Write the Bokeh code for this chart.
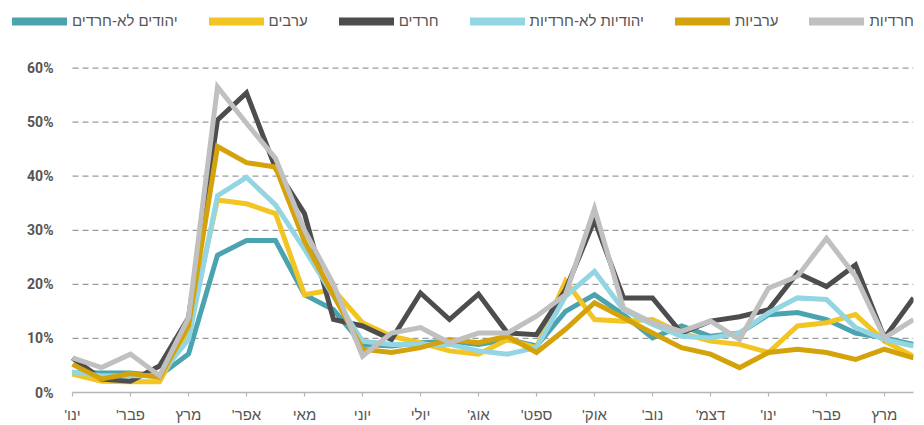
from bokeh.plotting import figure
from bokeh.models import (Range1d, FixedTicker, PrintfTickFormatter, Legend, LegendItem)
from bokeh.embed import file_html
from bokeh.resources import INLINE

# ---- data (percent) ----
months = ["ינו'", "פבר'", "מרץ", "אפר'", "מאי", "יוני", "יולי", "אוג'",
          "ספט'", "אוק'", "נוב'", "דצמ'", "ינו'", "פבר'", "מרץ"]

men_non_haredi = [3.7, 3.6, 3.6, 3.1, 7.1, 25.4, 28.1, 28.1, 18.1, 15.3, 8.9, 8.6, 9.2, 9.5, 8.9,
                  9.8, 8.6, 15.0, 18.1, 14.4, 10.1, 12.3, 10.4, 11.0, 14.4, 14.8, 13.5, 11.0, 10.1, 8.9]
arab_men = [3.4, 2.1, 2.0, 2.0, 11.7, 35.6, 34.9, 33.1, 18.1, 19.0, 12.9, 10.4, 9.2, 7.7, 7.1,
            9.8, 8.3, 20.6, 13.5, 13.2, 13.5, 11.0, 9.5, 8.9, 7.4, 12.3, 12.9, 14.4, 9.5, 6.7]
haredi_men = [6.4, 2.5, 2.1, 4.9, 13.8, 50.4, 55.4, 41.5, 33.1, 13.5, 12.3, 9.8, 18.4, 13.5, 18.2,
              11.0, 10.7, 19.0, 31.9, 17.5, 17.5, 11.0, 13.2, 14.0, 15.3, 22.1, 19.6, 23.6, 10.1, 17.5]
women_non_haredi = [3.8, 3.1, 3.1, 3.1, 9.8, 36.4, 39.8, 34.7, 26.5, 17.8, 9.5, 8.9, 8.9, 8.9, 7.7,
                    7.1, 8.3, 17.8, 22.4, 15.3, 12.6, 10.4, 10.1, 11.0, 14.7, 17.5, 17.2, 12.0, 9.8, 8.6]
arab_women = [5.2, 2.5, 3.5, 2.8, 12.3, 45.5, 42.5, 41.7, 28.0, 18.0, 8.0, 7.4, 8.3, 9.8, 9.2,
              10.4, 7.4, 11.7, 16.6, 13.8, 11.0, 8.3, 7.1, 4.6, 7.4, 8.0, 7.4, 6.1, 8.0, 6.4]
haredi_women = [6.4, 4.6, 7.1, 3.1, 13.8, 56.5, 49.8, 43.3, 30.0, 20.0, 6.7, 11.0, 12.0, 9.2, 11.0,
                11.0, 14.1, 18.1, 34.0, 15.6, 12.9, 11.3, 13.2, 9.8, 19.3, 21.5, 28.5, 21.5, 10.1, 13.5]

series_names = ["יהודים לא-חרדים", "ערבים", "חרדים", "יהודיות לא-חרדיות", "ערביות", "חרדיות"]
series_values = [men_non_haredi, arab_men, haredi_men, women_non_haredi, arab_women, haredi_women]
colors = ["#4aa3ae", "#f2c523", "#4d4d4f", "#93d5e3", "#d4a20b", "#c0c0c0"]
y_ticks = [0, 10, 20, 30, 40, 50, 60]

x = list(range(len(men_non_haredi)))
n_last = x[-1]

# frame spans from x=12px to 913px; data index 0 sits at 72px
px_per_unit = (913 - 72) / n_last
x_start = -(72 - 12) / px_per_unit

p = figure(width=924, height=425, output_backend="svg", toolbar_location=None,
           x_range=Range1d(x_start, n_last), y_range=Range1d(0, 72.5),
           min_border_left=12, min_border_right=11, min_border_top=0, min_border_bottom=32)
p.outline_line_color = None
p.background_fill_color = "white"
p.xgrid.visible = False
p.ygrid.visible = False

# dashed horizontal guide lines limited to the data span
grid_y = y_ticks[1:]
p.segment(x0=[0] * len(grid_y), x1=[n_last] * len(grid_y), y0=grid_y, y1=grid_y,
          line_color="#9a9a9a", line_dash="6 4", line_width=1.2)

for vals, col in zip(series_values, colors):
    p.line(x, vals, line_color=col, line_width=5, line_join="miter")

# legend swatches: lines placed outside the visible range (used only for legend glyphs)
legend_items = []
for name, col in zip(series_names, colors):
    r = p.line([-10, -9], [-10, -10], line_color=col, line_width=8, line_cap="round")
    legend_items.append(LegendItem(label=name, renderers=[r]))

legend = Legend(items=legend_items, orientation="horizontal", location=(0, 363),
                glyph_width=55, glyph_height=16, label_height=16, label_standoff=5,
                spacing=31, padding=0, margin=0, border_line_color=None,
                background_fill_alpha=0, label_text_font="Liberation Sans",
                label_text_font_size="15px", label_text_color="#555555")
p.add_layout(legend)

# y axis: labels sit to the left of the data span (inside the widened frame)
p.yaxis.ticker = FixedTicker(ticks=y_ticks)
p.yaxis.formatter = PrintfTickFormatter(format="%d%%")
p.yaxis.axis_line_color = None
p.yaxis.major_tick_line_color = None
p.yaxis.minor_tick_line_color = None
p.yaxis.major_tick_out = 0
p.yaxis.major_tick_in = 0
p.yaxis.major_label_standoff = -41
p.yaxis.major_label_text_font = "Roboto"
p.yaxis.major_label_text_font_style = "bold"
p.yaxis.major_label_text_font_size = "14px"
p.yaxis.major_label_text_color = "#555555"

xticks = list(range(0, 30, 2))
p.xaxis.ticker = FixedTicker(ticks=xticks)
p.xaxis.bounds = (0, n_last)
p.xaxis.major_label_overrides = {t: "\u202b" + m + "\u202c" for t, m in zip(xticks, months)}
p.xaxis.axis_line_color = "#b5b5b5"
p.xaxis.axis_line_width = 1.5
p.xaxis.major_tick_line_color = "#b5b5b5"
p.xaxis.major_tick_line_width = 1.2
p.xaxis.major_tick_out = 4
p.xaxis.major_tick_in = 0
p.xaxis.minor_tick_line_color = None
p.xaxis.major_label_standoff = 9
p.xaxis.major_label_text_font = "Liberation Sans"
p.xaxis.major_label_text_font_size = "15px"
p.xaxis.major_label_text_color = "#555555"

open("out.html", "w").write(file_html(p, INLINE))
